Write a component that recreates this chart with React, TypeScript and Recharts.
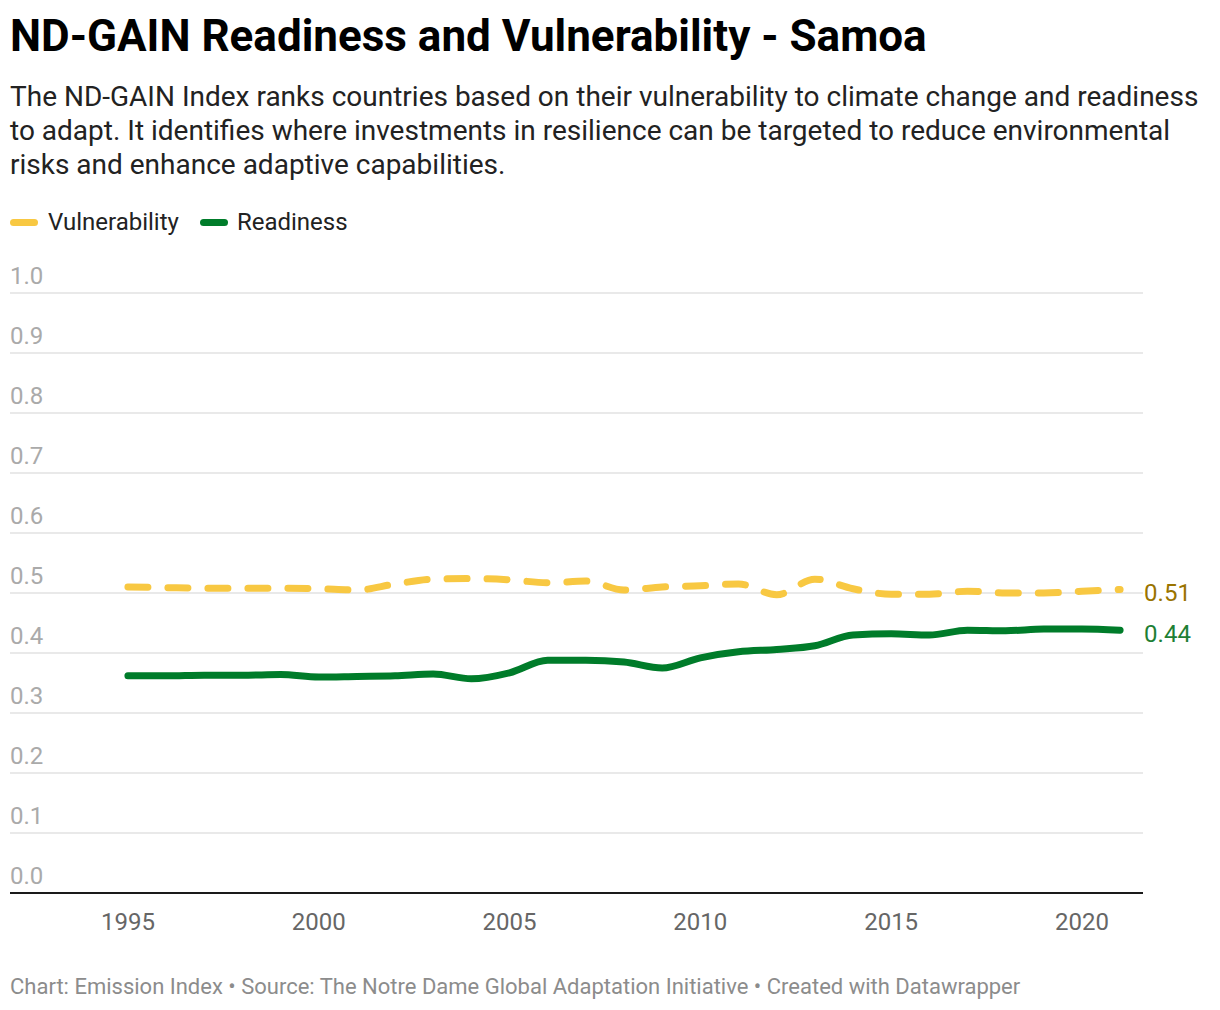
import React from "react";
import { LineChart, Line, XAxis, YAxis, CartesianGrid } from "recharts";

const years = [1995,1996,1997,1998,1999,2000,2001,2002,2003,2004,2005,2006,2007,2008,2009,2010,2011,2012,2013,2014,2015,2016,2017,2018,2019,2020,2021];
const vulnerability = [0.510,0.509,0.508,0.508,0.508,0.507,0.505,0.515,0.523,0.524,0.522,0.517,0.520,0.505,0.510,0.512,0.515,0.497,0.523,0.507,0.498,0.498,0.503,0.500,0.500,0.503,0.506];
const readiness = [0.362,0.362,0.363,0.363,0.364,0.360,0.361,0.362,0.365,0.357,0.367,0.388,0.388,0.385,0.375,0.392,0.402,0.406,0.412,0.430,0.432,0.430,0.438,0.437,0.440,0.440,0.438];
const xTicks = [1995,2000,2005,2010,2015,2020];
const yTicks = [0,0.1,0.2,0.3,0.4,0.5,0.6,0.7,0.8,0.9,1.0];

const title = "ND-GAIN Readiness and Vulnerability - Samoa";
const subtitleLines = [
  "The ND-GAIN Index ranks countries based on their vulnerability to climate change and readiness",
  "to adapt. It identifies where investments in resilience can be targeted to reduce environmental",
  "risks and enhance adaptive capabilities.",
];
const footer = "Chart: Emission Index \u2022 Source: The Notre Dame Global Adaptation Initiative \u2022 Created with Datawrapper";

const VULN_COLOR = "#f8c842";
const READY_COLOR = "#007c2a";

const data = years.map((y, i) => ({ year: y, vulnerability: vulnerability[i], readiness: readiness[i] }));

const FONT = "Roboto, 'Noto Sans', sans-serif";

const YTick = (props: any) => {
  const { y, payload } = props;
  return (
    <text x={10} y={y - 9} fill="#aaaaaa" fontSize={24} fontFamily={FONT} textAnchor="start">
      {Number(payload.value).toFixed(1)}
    </text>
  );
};

const XTick = (props: any) => {
  const { x, y, payload } = props;
  return (
    <text x={x} y={y + 35} fill="#666666" fontSize={24} fontFamily={FONT} textAnchor="middle">
      {payload.value}
    </text>
  );
};

const endLabel = (color: string) => (props: any) => {
  const { x, y, index, value } = props;
  if (index !== data.length - 1) return null;
  return (
    <text x={x + 24} y={y + 12} fill={color} fontSize={24} fontFamily={FONT} textAnchor="start">
      {Number(value).toFixed(2)}
    </text>
  );
};

export default function App() {
  return (
    <div style={{ position: "absolute", left: 0, top: 0, width: 1220, height: 1010, background: "#fff", fontFamily: FONT, color: "#222" }}>
      <div style={{ position: "absolute", left: 10, top: 11, fontSize: 44, fontWeight: 700, lineHeight: "50px", color: "#000", whiteSpace: "nowrap" }}>
        {title}
      </div>
      <div style={{ position: "absolute", left: 10, top: 80, fontSize: 28, lineHeight: "34px", color: "#222", whiteSpace: "nowrap" }}>
        {subtitleLines.map((l, i) => (
          <div key={i}>{l}</div>
        ))}
      </div>
      <div style={{ position: "absolute", left: 10, top: 208, display: "flex", alignItems: "center", fontSize: 24, lineHeight: "28px", color: "#222" }}>
        <span style={{ display: "inline-block", width: 28, height: 7, borderRadius: 4, background: VULN_COLOR, marginRight: 10 }} />
        <span style={{ marginRight: 21 }}>Vulnerability</span>
        <span style={{ display: "inline-block", width: 28, height: 7, borderRadius: 4, background: READY_COLOR, marginRight: 9 }} />
        <span>Readiness</span>
      </div>
      <div style={{ position: "absolute", left: 0, top: 0 }}>
        <LineChart width={1220} height={1010} data={data} margin={{ top: 293, bottom: 87, left: 9, right: 77 }}>
          <CartesianGrid horizontal={true} vertical={false} stroke="#e2e2e2" strokeWidth={1.5} />
          <XAxis
            dataKey="year"
            type="number"
            domain={[1991.91, 2021.6]}
            ticks={xTicks}
            tickLine={false}
            tickSize={0}
            height={30}
            tick={<XTick />}
            axisLine={{ stroke: "#1a1a1a", strokeWidth: 2 }}
            allowDataOverflow
          />
          <YAxis
            type="number"
            domain={[0, 1]}
            ticks={yTicks}
            width={1}
            axisLine={false}
            tickLine={false}
            tick={<YTick />}
            interval={0}
          />
          <Line
            dataKey="vulnerability"
            type="monotone"
            stroke={VULN_COLOR}
            strokeWidth={7}
            strokeDasharray="20 20"
            strokeLinecap="round"
            dot={false}
            isAnimationActive={false}
            label={endLabel("#9a7400")}
          />
          <Line
            dataKey="readiness"
            type="monotone"
            stroke={READY_COLOR}
            strokeWidth={7}
            strokeLinecap="round"
            dot={false}
            isAnimationActive={false}
            label={endLabel("#1e7f34")}
          />
        </LineChart>
      </div>
      <div style={{ position: "absolute", left: 10, top: 973, fontSize: 22, lineHeight: "28px", color: "#8c8c8c", whiteSpace: "nowrap" }}>
        {footer}
      </div>
    </div>
  );
}
